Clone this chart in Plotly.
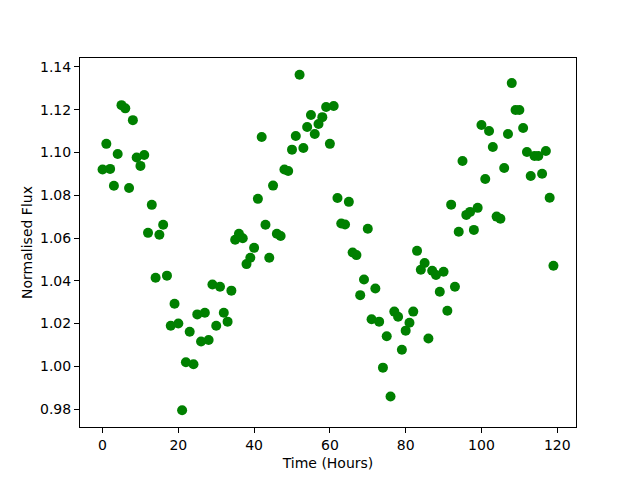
import plotly.graph_objects as go

hours = list(range(120))
flux = [
    1.092, 1.104, 1.0923, 1.0844, 1.0993, 1.1221, 1.1206, 1.0834, 1.1151, 1.0976,
    1.0937, 1.0988, 1.0624, 1.0755, 1.0414, 1.0615, 1.0662, 1.0424, 1.019, 1.0293,
    1.020, 0.9795, 1.0019, 1.0162, 1.001, 1.0243, 1.0116, 1.0251, 1.0123, 1.0383,
    1.019, 1.0372, 1.0251, 1.0209, 1.0354, 1.0592, 1.062, 1.0599, 1.0478, 1.0508,
    1.0554, 1.0783, 1.1072, 1.0662, 1.0508, 1.0845, 1.062, 1.0609, 1.092, 1.0913,
    1.1013, 1.1077, 1.1363, 1.1021, 1.1119, 1.1175, 1.1086, 1.1133, 1.1165, 1.1212,
    1.104, 1.1217, 1.0787, 1.0668, 1.0663, 1.0769, 1.0532, 1.052, 1.0333, 1.0406,
    1.0643, 1.022, 1.0364, 1.0209, 0.9994, 1.0141, 0.9859, 1.0256, 1.0232, 1.0078,
    1.0167, 1.0204, 1.0256, 1.054, 1.0452, 1.0483, 1.013, 1.0447, 1.0427, 1.0349,
    1.0442, 1.026, 1.0756, 1.0372, 1.0629, 1.096, 1.0708, 1.0722, 1.0638, 1.0741,
    1.1128, 1.0876, 1.11, 1.1025, 1.070, 1.069, 1.0927, 1.1086, 1.1324, 1.1198,
    1.1198, 1.1114, 1.1002, 1.089, 1.0983, 1.0983, 1.090, 1.1007, 1.0788, 1.047,
]

x_title = "Time (Hours)"
y_title = "Normalised Flux"

fig = go.Figure()
fig.add_trace(go.Scatter(
    x=hours, y=flux, mode="markers",
    marker=dict(color="#008000", size=10, line=dict(width=0)),
))

xmin, xmax = min(hours), max(hours)
ymin, ymax = min(flux), max(flux)
xpad = (xmax - xmin) * 0.05
ypad = (ymax - ymin) * 0.05

axis_common = dict(
    showgrid=False, zeroline=False, showline=True, linecolor="black", linewidth=1,
    mirror=True, ticks="outside", ticklen=5, tickwidth=1, tickcolor="black",
    tickfont=dict(family="DejaVu Sans", size=14, color="black"),
    automargin=False,
)

# page body has an 8px default margin, so margins are reduced by 8px
fig.update_layout(
    width=640, height=480,
    margin=dict(l=72, r=72, t=50, b=61),
    paper_bgcolor="white", plot_bgcolor="white",
    showlegend=False,
    font=dict(family="DejaVu Sans", size=14, color="black"),
    xaxis=dict(range=[xmin - xpad, xmax + xpad], dtick=20, tick0=0,
               title=dict(text=x_title, standoff=6, font=dict(size=14)), **axis_common),
    yaxis=dict(range=[ymin - ypad, ymax + ypad], dtick=0.02, tick0=0.98, tickformat=".2f",
               title=dict(text=y_title, standoff=4, font=dict(size=14)), **axis_common),
)

fig.write_html("out.html")
